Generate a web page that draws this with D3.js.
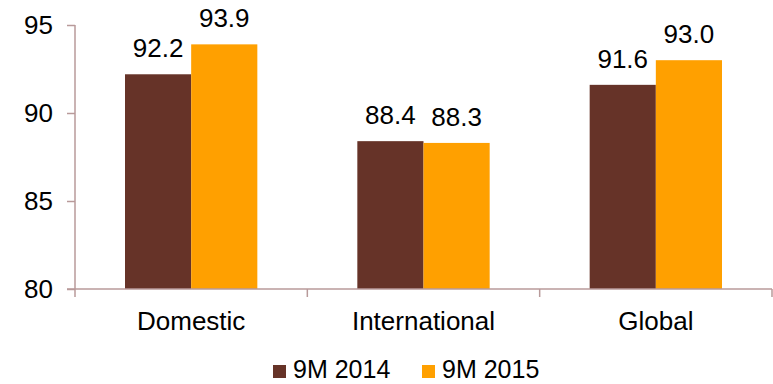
<!DOCTYPE html>
<html>
<head>
<meta charset="utf-8">
<script src="https://cdn.jsdelivr.net/npm/d3@7"></script>
<style>
body{margin:0;background:#fff;}
text{font-family:"Liberation Sans",Arial,sans-serif;fill:#000;}
</style>
</head>
<body>
<svg id="chart" width="773" height="384"></svg>
<script>
const categories = ["Domestic", "International", "Global"];
const seriesNames = ["9M 2014", "9M 2015"];
const values2014 = [92.2, 88.4, 91.6];
const values2015 = [93.9, 88.3, 93.0];
const yTicks = [80, 85, 90, 95];
const colors = ["#663328", "#FFA000"];

const svg = d3.select("#chart");
const margin = {left: 75, right: 1, top: 25, bottom: 95};
const axisColor = "#B89A9A";

const x = d3.scaleBand().domain(categories).range([margin.left, 772]).paddingInner(0).paddingOuter(0);
const y = d3.scaleLinear().domain([80, 95]).range([289, 25]);
const groupPad = 50;
const xs = d3.scaleBand().domain(seriesNames).range([groupPad, x.bandwidth() - groupPad]).padding(0);

const data = categories.map((c, i) => ({cat: c, vals: [values2014[i], values2015[i]]}));

// bars
const g = svg.append("g");
data.forEach(d => {
  d.vals.forEach((v, j) => {
    g.append("rect")
      .attr("x", x(d.cat) + xs(seriesNames[j]))
      .attr("y", y(v))
      .attr("width", xs.bandwidth())
      .attr("height", y(80) - y(v))
      .attr("fill", colors[j]);
    g.append("text")
      .attr("x", x(d.cat) + xs(seriesNames[j]) + xs.bandwidth() / 2)
      .attr("y", y(v) - 17)
      .attr("text-anchor", "middle")
      .attr("font-size", "26px")
      .text(v.toFixed(1));
  });
});

// y axis
const yAxis = d3.axisLeft(y).tickValues(yTicks).tickSize(8).tickPadding(14).tickFormat(d3.format("d"));
const ya = svg.append("g").attr("transform", `translate(${margin.left},0)`).call(yAxis);
ya.select(".domain").attr("stroke", axisColor).attr("stroke-width", 1.5).attr("d", `M0,${y(95)}V${y(80)}`);
ya.selectAll(".tick line").attr("stroke", axisColor).attr("stroke-width", 1.5);
ya.selectAll(".tick text").attr("font-size", "26px").attr("font-family", "Liberation Sans, Arial, sans-serif").attr("fill", "#000");

// x axis
const xa = svg.append("g").attr("transform", `translate(0,${y(80)})`);
xa.append("line").attr("x1", margin.left - 8).attr("x2", 772).attr("y1", 0).attr("y2", 0)
  .attr("stroke", axisColor).attr("stroke-width", 1.5);
const bounds = categories.map(c => x(c) + x.bandwidth()).concat([x(categories[0])]);
bounds.forEach(b => {
  xa.append("line").attr("x1", b).attr("x2", b).attr("y1", 0).attr("y2", 8)
    .attr("stroke", axisColor).attr("stroke-width", 1.5);
});
categories.forEach(c => {
  xa.append("text").attr("x", x(c) + x.bandwidth() / 2).attr("y", 41)
    .attr("text-anchor", "middle").attr("font-size", "26px").text(c);
});

// legend
const legendItems = [{name: seriesNames[0], x: 273}, {name: seriesNames[1], x: 422}];
legendItems.forEach((l, i) => {
  svg.append("rect").attr("x", l.x).attr("y", 365).attr("width", 13).attr("height", 13).attr("fill", colors[i]);
  svg.append("text").attr("x", l.x + 20).attr("y", 378).attr("font-size", "25px").text(l.name);
});
</script>
</body>
</html>
